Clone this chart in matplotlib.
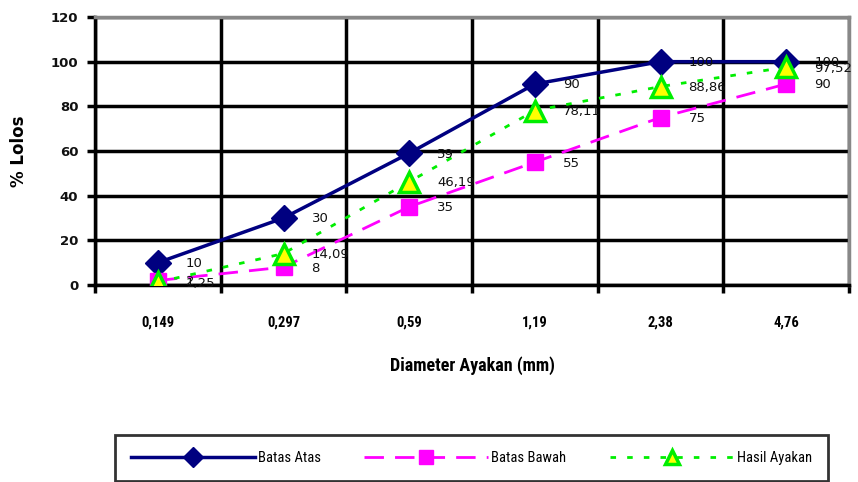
import matplotlib
matplotlib.use("Agg")
import matplotlib.pyplot as plt
from matplotlib.ticker import FixedLocator
from matplotlib import font_manager

categories = ["0,149", "0,297", "0,59", "1,19", "2,38", "4,76"]
batas_atas = [10, 30, 59, 90, 100, 100]
batas_bawah = [2, 8, 35, 55, 75, 90]
hasil_ayakan = [1.25, 14.09, 46.19, 78.11, 88.86, 97.52]
y_ticks = [0, 20, 40, 60, 80, 100, 120]

names = {f.name for f in font_manager.fontManager.ttflist}
NARROW = [n for n in ["Liberation Sans Narrow", "DejaVu Sans Condensed",
                      "Roboto Condensed", "Open Sans Condensed"] if n in names]
NARROW = NARROW + ["DejaVu Sans"]

def fmt(v):
    s = ("%g" % v)
    return s.replace(".", ",")

fig = plt.figure(figsize=(8.58, 4.82), dpi=100)
ax = fig.add_axes([95/858, 1-285/482, (849-95)/858, (285-17)/482])

x = list(range(len(categories)))

l1, = ax.plot(x, batas_atas, color="#000080", lw=2.5, marker="D", ms=13,
              markerfacecolor="#000080", markeredgecolor="#000080", zorder=5,
              label="Batas Atas")
l2, = ax.plot(x, batas_bawah, color="#FF00FF", lw=2, linestyle=(0, (7, 4)),
              marker="s", ms=12, markerfacecolor="#FF00FF",
              markeredgecolor="#FF00FF", zorder=6, label="Batas Bawah")
l3, = ax.plot(x, hasil_ayakan, color="#00EE00", lw=2, linestyle=(0, (2, 4)),
              marker="^", ms=15, markerfacecolor="#FFFF00",
              markeredgecolor="#00EE00", markeredgewidth=2.5, zorder=7,
              label="Hasil Ayakan")

for series in (batas_atas, batas_bawah, hasil_ayakan):
    for xi, v in zip(x, series):
        ax.annotate(fmt(v), (xi, v), xytext=(28, -1), textcoords="offset pixels",
                    ha="left", va="center", fontsize=9.5, color="#111111",
                    family="DejaVu Sans", zorder=10)

ax.set_xlim(-0.5, 5.5)
ax.set_ylim(0, 120)
ax.set_yticks(y_ticks)
ax.set_yticklabels([str(t) for t in y_ticks], fontsize=9.5, fontweight="bold",
                   color="#111111")
ax.set_xticks(x)
ax.set_xticklabels(categories, fontsize=10.5, fontweight="bold", family=NARROW)
ax.xaxis.set_minor_locator(FixedLocator([i - 0.5 for i in range(7)]))
ax.tick_params(axis="x", which="major", length=0, pad=22)
ax.tick_params(axis="x", which="minor", length=6, width=2.5, color="black",
               direction="out")
ax.tick_params(axis="y", length=6, width=2.5, color="black", direction="out", pad=6)

ax.grid(True, axis="y", color="black", lw=2.5, zorder=1)
ax.grid(True, axis="x", which="minor", color="black", lw=2.5, zorder=1)
ax.grid(False, axis="x", which="major")

for s in ("left", "bottom"):
    ax.spines[s].set_color("black")
    ax.spines[s].set_linewidth(2.5)
for s in ("top", "right"):
    ax.spines[s].set_color("#888888")
    ax.spines[s].set_linewidth(2.5)
ax.set_axisbelow(True)

ax.set_xlabel("Diameter Ayakan (mm)", fontsize=13, fontweight="bold",
              family=NARROW, labelpad=19)
ax.set_ylabel("% Lolos", fontsize=12, fontweight="bold", labelpad=16)

leg = fig.legend(handles=[l1, l2, l3], loc="lower left",
                 bbox_to_anchor=(115/858, 1-481/482, (828-115)/858, 44/482),
                 mode="expand", ncol=3, handlelength=8.5,
                 prop={"family": NARROW, "size": 10.5}, frameon=True,
                 fancybox=False, edgecolor="black", borderaxespad=0,
                 handletextpad=0.2, columnspacing=0.6, borderpad=1.1)
leg.get_frame().set_linewidth(2)
for h in leg.legend_handles:
    h.set_markersize(10)

fig.savefig("out.png", dpi=100)
